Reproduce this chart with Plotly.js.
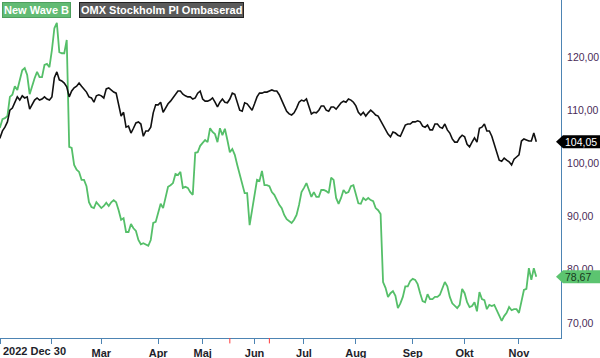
<!DOCTYPE html>
<html>
<head>
<meta charset="utf-8">
<script src="https://cdn.plot.ly/plotly-3.0.1.min.js"></script>
<style>html,body{margin:0;padding:0;background:#fff;}#chart{width:600px;height:358px;}</style>
</head>
<body>
<div id="chart"></div>
<script>
// ---- Data ----
const seriesNames = ['New Wave B', 'OMX Stockholm PI Ombaserad'];
const startDate = '2022-12-30';
const holidays = ['2023-01-06','2023-04-07','2023-04-10','2023-05-01','2023-05-18','2023-06-06','2023-06-23'];

const newWaveB = [
106.3,106.8,108.3,108.5,108.9,112.5,112.9,114.5,113.8,115.7,
117.5,117.9,116.6,113.0,114.7,116.0,117.2,116.2,116.2,118.5,
118.7,118.1,121.3,125.4,126.4,120.9,120.7,120.7,123.2,103.1,
102.9,99.7,98.8,98.4,96.9,96.9,95.7,92.7,91.8,91.6,
92.7,92.2,91.6,92.0,92.6,92.0,92.7,93.1,92.7,91.2,
89.4,89.7,87.1,87.1,88.6,87.8,87.3,85.6,84.8,85.0,
84.8,84.5,85.6,88.8,89.0,90.9,92.4,91.6,93.9,95.6,
95.9,96.3,98.0,97.8,98.4,95.4,95.6,95.4,94.6,94.1,
102.0,102.1,103.3,103.8,104.4,104.0,106.6,105.9,105.5,104.0,
106.6,105.3,106.5,104.4,102.1,102.7,101.6,99.7,97.8,96.3,
94.4,94.4,88.4,91.2,93.7,96.9,96.7,98.6,95.9,95.9,
95.7,94.6,94.1,93.1,92.2,91.6,90.3,89.5,89.2,88.8,
89.4,90.3,92.2,94.6,95.4,96.3,95.0,93.7,94.6,93.7,
93.7,95.0,95.0,94.8,94.4,97.3,96.9,93.5,92.4,93.5,
95.0,94.4,94.6,95.7,95.9,94.2,92.5,92.4,93.5,93.1,
93.5,93.1,92.9,91.6,91.2,90.5,77.7,76.6,74.9,75.6,
76.0,75.1,72.8,73.7,74.9,76.9,76.9,77.9,78.3,78.1,
77.3,75.6,74.1,73.9,75.4,74.5,74.5,74.9,74.9,75.3,
76.6,77.7,76.9,74.9,73.7,73.2,72.8,73.4,76.4,75.6,
73.9,73.0,73.2,73.9,72.2,75.8,74.5,74.3,72.6,73.4,
73.2,73.4,72.4,71.1,70.4,71.3,71.9,73.0,72.4,72.6,
72.6,71.9,74.3,76.2,76.4,80.3,78.1,80.3,78.67
];

const omxPI = [
104.4,104.8,106.1,106.8,107.8,110.0,110.4,111.4,112.5,111.9,
112.7,112.3,112.5,110.2,111.2,111.9,112.3,111.9,112.1,112.5,
112.1,111.9,112.5,116.1,117.2,115.7,115.5,115.1,114.4,112.5,
113.6,114.2,114.5,115.1,114.5,114.0,113.4,112.5,112.3,111.5,
112.7,112.9,112.7,112.3,114.0,114.2,113.8,113.4,113.2,111.0,
108.9,109.6,106.8,107.0,105.7,106.6,107.6,107.8,107.4,105.1,
106.1,106.1,106.8,109.5,111.0,111.0,111.5,109.6,110.4,111.2,
111.7,112.3,113.0,113.6,113.6,113.0,112.7,112.5,112.5,112.1,
112.3,113.2,113.6,112.1,111.7,111.7,111.9,112.3,111.5,110.6,
111.5,112.1,111.5,111.4,112.1,113.2,113.0,111.4,110.0,109.8,
111.4,111.2,110.6,110.0,111.2,112.5,113.2,113.2,113.4,113.4,
113.6,113.8,113.6,113.6,112.9,111.7,110.8,109.8,109.3,109.1,
109.5,110.4,111.5,111.9,111.7,112.1,110.6,109.3,109.6,109.5,
110.0,110.8,110.8,110.0,109.8,110.6,110.6,110.2,110.8,111.4,
111.7,111.5,112.1,111.9,111.5,110.8,109.6,109.1,109.6,108.9,
109.5,110.0,109.6,109.1,108.9,108.0,107.2,106.1,105.5,105.0,
105.9,105.7,105.3,105.1,106.1,107.2,107.4,107.4,107.8,107.8,
108.0,107.8,107.0,106.8,107.2,106.3,106.3,107.4,107.4,106.8,
106.6,107.4,106.3,105.7,104.6,104.0,104.0,104.8,105.3,105.0,
103.6,103.1,104.0,104.8,104.0,106.6,106.8,107.4,106.1,106.1,
105.1,103.5,102.1,100.6,100.4,101.0,100.6,100.3,99.7,100.8,
101.2,101.6,104.2,104.6,104.4,104.2,104.2,105.7,104.05
];

const tickDates = ['2023-01-02','2023-02-01','2023-03-01','2023-04-03','2023-05-02','2023-06-01','2023-07-03','2023-08-01','2023-09-01','2023-10-02','2023-11-01'];
const tickLabels = ['','','Mar','Apr','Maj','Jun','Jul','Aug','Sep','Okt','Nov'];
const eventDates = ['2023-05-17','2023-06-12'];
const yTicks = [70,80,90,100,110,120];
const xRange = ['2023-01-02','2023-11-24'];
const yRange = [67.18, 130.71];

// ---- Trading-day calendar ----
function tradingDays(start, n) {
  const out = [];
  const d = new Date(start + 'T00:00:00Z');
  while (out.length < n) {
    const dow = d.getUTCDay();
    const iso = d.toISOString().slice(0,10);
    if (dow !== 0 && dow !== 6 && holidays.indexOf(iso) < 0) out.push(iso);
    d.setUTCDate(d.getUTCDate() + 1);
  }
  return out;
}
const dates = tradingDays(startDate, newWaveB.length);

const green = '#55bf69';
const axisCol = '#4d84b3';
const font = 'Liberation Sans, Arial, sans-serif';
const fmt = v => v.toFixed(2).replace('.', ',');

const traces = [
  {x: dates, y: newWaveB, type: 'scatter', mode: 'lines', name: seriesNames[0],
   line: {color: green, width: 1.8}, hoverinfo: 'skip'},
  {x: dates, y: omxPI, type: 'scatter', mode: 'lines', name: seriesNames[1],
   line: {color: '#111111', width: 1.6}, hoverinfo: 'skip'}
];

const lastG = newWaveB[newWaveB.length - 1];
const lastB = omxPI[omxPI.length - 1];
const tagPath = 'M -5,0 L 2,6.5 L 39,6.5 L 39,-6.5 L 2,-6.5 Z';

const shapes = [
  {type: 'path', xref: 'paper', yref: 'y', xsizemode: 'pixel', ysizemode: 'pixel',
   xanchor: 1, yanchor: lastB, path: tagPath, fillcolor: '#000000', line: {width: 0}},
  {type: 'path', xref: 'paper', yref: 'y', xsizemode: 'pixel', ysizemode: 'pixel',
   xanchor: 1, yanchor: lastG, path: tagPath, fillcolor: '#5cc470', line: {width: 0}}
].concat(eventDates.map(d => ({
  type: 'line', xref: 'x', yref: 'paper', x0: d, x1: d, y0: 0, y1: -0.016,
  line: {color: '#ff3b3b', width: 1}
})));

const annotations = [
  {xref: 'paper', yref: 'paper', x: 0, y: 1, xanchor: 'left', yanchor: 'top', xshift: 2, yshift: -2,
   text: '<b>' + seriesNames[0] + '</b>', showarrow: false, bgcolor: '#62bb74',
   bordercolor: '#4d9e5e', borderwidth: 1, borderpad: 1,
   font: {family: font, size: 11, color: '#ffffff'}},
  {xref: 'paper', yref: 'paper', x: 0, y: 1, xanchor: 'left', yanchor: 'top', xshift: 79, yshift: -2,
   text: '<b>' + seriesNames[1] + '</b>', showarrow: false, bgcolor: '#5a5a5a',
   bordercolor: '#222222', borderwidth: 1, borderpad: 1,
   font: {family: font, size: 11, color: '#ffffff'}},
  {xref: 'paper', yref: 'paper', x: 0, y: -0.039, xanchor: 'left', yanchor: 'middle', xshift: 1,
   text: '<b>' + startDate.slice(0,4) + ' Dec 30</b>', showarrow: false,
   font: {family: font, size: 11, color: '#1e1e2a'}},
  {xref: 'paper', yref: 'y', x: 1, y: lastB, xanchor: 'left', yanchor: 'middle', xshift: 2,
   text: fmt(lastB), showarrow: false, font: {family: font, size: 10.5, color: '#ffffff'}},
  {xref: 'paper', yref: 'y', x: 1, y: lastG, xanchor: 'left', yanchor: 'middle', xshift: 2,
   text: fmt(lastG), showarrow: false, font: {family: font, size: 10.5, color: '#173a1d'}}
];

const layout = {
  width: 600, height: 358,
  margin: {l: 0, r: 39, t: 0, b: 20, pad: 0},
  paper_bgcolor: '#ffffff', plot_bgcolor: '#ffffff',
  showlegend: false,
  separators: ', ',
  xaxis: {
    type: 'date', range: xRange,
    rangebreaks: [{bounds: ['sat', 'mon']}, {values: holidays}],
    tickmode: 'array', tickvals: tickDates, ticktext: tickLabels,
    ticks: 'outside', ticklen: 5, tickcolor: axisCol, tickwidth: 1,
    showline: true, linecolor: axisCol, linewidth: 1,
    showgrid: false, zeroline: false,
    tickfont: {family: font, size: 11, color: '#1e1e2a', weight: 'bold'}
  },
  yaxis: {
    side: 'right', range: yRange,
    tickmode: 'array', tickvals: yTicks, ticktext: yTicks.map(fmt),
    ticks: '', showline: true, linecolor: axisCol, linewidth: 1,
    showgrid: false, zeroline: false, ticklabelstandoff: 3,
    tickfont: {family: font, size: 10.5, color: '#4a2a58'}
  },
  shapes: shapes,
  annotations: annotations
};

Plotly.newPlot('chart', traces, layout, {displayModeBar: false, staticPlot: true});
</script>
</body>
</html>
